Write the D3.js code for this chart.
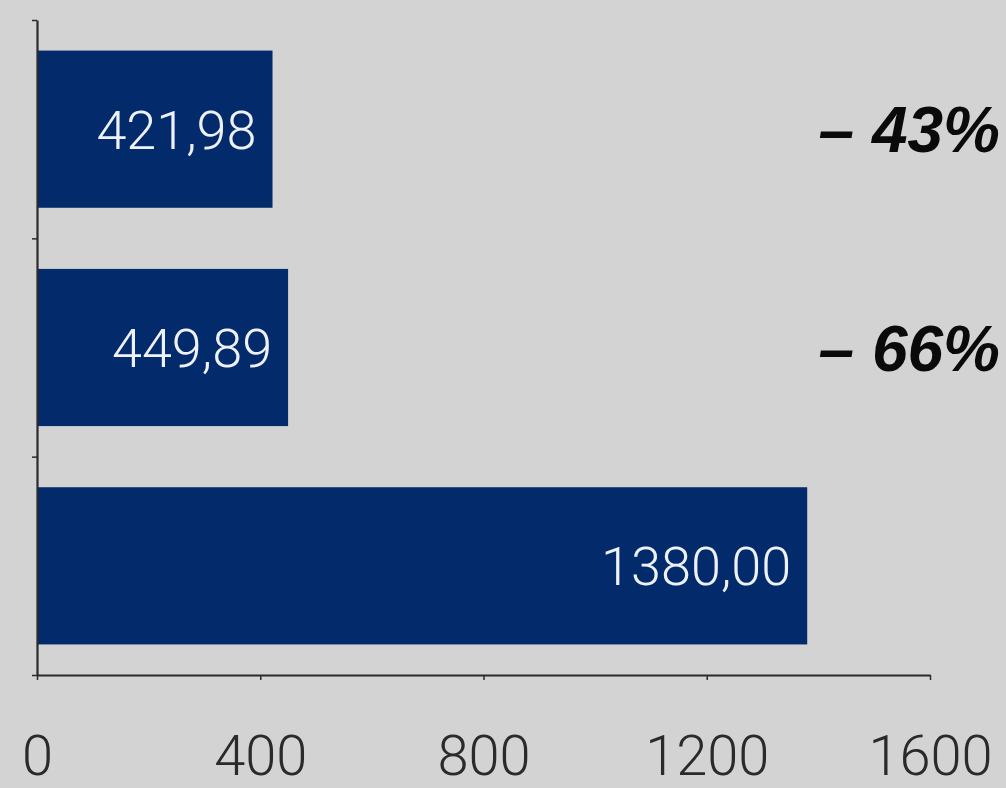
<!DOCTYPE html>
<html>
<head>
<meta charset="utf-8">
<script src="https://cdn.jsdelivr.net/npm/d3@7"></script>
<style>
  html, body { margin: 0; padding: 0; background: #d3d3d3; }
  svg { display: block; }
</style>
</head>
<body>
<svg id="chart" width="1006" height="788"></svg>
<script>
// Values shown on the bars, top to bottom
const categories = ["A", "B", "C"];
const values = [421.98, 449.89, 1380.00];
const valueLabels = ["421,98", "449,89", "1380,00"];
// Change labels shown to the right of the upper bars
const changeLabels = ["– 43%", "– 66%", ""];
const xTicks = [0, 400, 800, 1200, 1600];

const svg = d3.select("#chart");
const W = 1006, H = 788;
const plotLeft = 37, plotRight = 930, plotTop = 20, plotBottom = 675;

svg.append("rect").attr("width", W).attr("height", H).attr("fill", "#d3d3d3");

const x = d3.scaleLinear().domain([0, 1600]).range([plotLeft, plotRight]);
const y = d3.scaleBand().domain(categories).range([plotTop, plotBottom])
  .paddingInner(0.28).paddingOuter(0.14);
// band boundaries for the left axis ticks
const yEdge = d3.scaleLinear().domain([0, categories.length]).range([plotBottom, plotTop]);

// bars
svg.append("g").selectAll("rect")
  .data(values)
  .join("rect")
  .attr("x", x(0))
  .attr("y", (d, i) => y(categories[i]))
  .attr("width", d => x(d) - x(0))
  .attr("height", y.bandwidth())
  .attr("fill", "#032b6b");

// value labels inside bars
svg.append("g").selectAll("text")
  .data(values)
  .join("text")
  .attr("x", d => x(d) - 16)
  .attr("y", (d, i) => y(categories[i]) + y.bandwidth() / 2)
  .attr("dy", "0.36em")
  .attr("text-anchor", "end")
  .attr("font-family", "Roboto, 'Liberation Sans', sans-serif")
  .attr("font-weight", 300)
  .attr("font-size", 54)
  .attr("fill", "#eef2f8")
  .text((d, i) => valueLabels[i]);

// change labels on the right
svg.append("g").selectAll("text")
  .data(changeLabels)
  .join("text")
  .attr("x", 1000)
  .attr("y", (d, i) => y(categories[i]) + y.bandwidth() / 2)
  .attr("dy", "0.36em")
  .attr("text-anchor", "end")
  .attr("font-family", "'Liberation Sans', Arial, sans-serif")
  .attr("font-weight", "bold")
  .attr("font-style", "italic")
  .attr("font-size", 64)
  .attr("fill", "#0a0a0a")
  .text(d => d);

// x axis
const gx = svg.append("g")
  .attr("transform", `translate(0,${plotBottom})`)
  .call(d3.axisBottom(x).tickValues(xTicks).tickFormat(d3.format("d"))
    .tickSize(5).tickSizeOuter(0).tickPadding(55));
gx.select(".domain").attr("stroke", "#2a2a2a").attr("stroke-width", 2.2);
gx.selectAll(".tick line").attr("stroke", "#2a2a2a").attr("stroke-width", 1.5);
gx.selectAll(".tick text")
  .attr("font-family", "Roboto, 'Liberation Sans', sans-serif")
  .attr("font-weight", 300)
  .attr("font-size", 56)
  .attr("fill", "#2a2a2a");

// y axis with ticks at band edges
const gy = svg.append("g")
  .attr("transform", `translate(${plotLeft},0)`)
  .call(d3.axisLeft(yEdge).tickValues([0, 1, 2, 3]).tickSize(5).tickSizeOuter(0).tickFormat(""));
gy.select(".domain").attr("stroke", "#2a2a2a").attr("stroke-width", 2.2);
gy.selectAll(".tick line").attr("stroke", "#2a2a2a").attr("stroke-width", 1.5);
</script>
</body>
</html>
